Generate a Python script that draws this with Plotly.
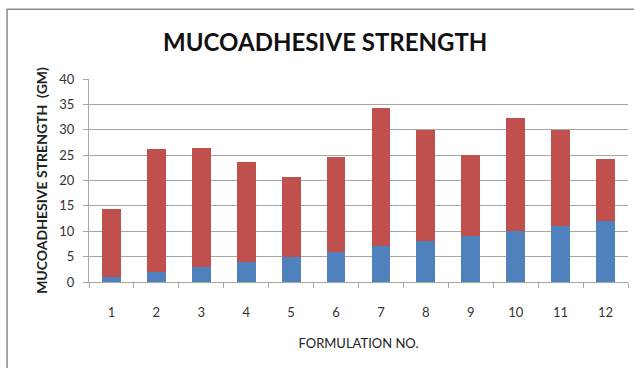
import plotly.graph_objects as go

# Formulation numbers and the two stacked components of each bar
formulations = ["1", "2", "3", "4", "5", "6", "7", "8", "9", "10", "11", "12"]
series_blue = [1, 2, 3, 4, 5, 6, 7, 8, 9, 10, 11, 12]
series_red = [13.4, 24.2, 23.4, 19.7, 15.6, 18.7, 27.3, 21.9, 16.1, 22.3, 19.0, 12.2]

y_ticks = [0, 5, 10, 15, 20, 25, 30, 35, 40]

FONT = "Lato"
GRID = "#a6a6a6"

fig = go.Figure()
fig.add_trace(go.Bar(x=formulations, y=series_blue, marker_color="#4F81BD",
                     marker_line_width=0, name="Series1"))
fig.add_trace(go.Bar(x=formulations, y=series_red, marker_color="#C0504D",
                     marker_line_width=0, name="Series2"))

fig.update_layout(
    barmode="stack",
    bargap=0.58,
    width=634,
    height=368,
    margin=dict(l=89, r=6, t=79, b=86),
    paper_bgcolor="white",
    plot_bgcolor="white",
    showlegend=False,
    font=dict(family=FONT, color="#333333", size=12),
    title=dict(
        text="MUCOADHESIVE STRENGTH",
        x=0.513, xref="container", xanchor="center",
        y=0.885, yref="container", yanchor="middle",
        font=dict(family=FONT, size=24, color="#111111", weight="bold"),
    ),
    xaxis=dict(
        type="category",
        showgrid=False,
        showline=True, linecolor=GRID, linewidth=1,
        ticks="outside", tickson="boundaries", ticklen=5, tickcolor=GRID,
        tickfont=dict(family=FONT, size=13, color="#333333"),
        ticklabelstandoff=18,
        title=dict(text="FORMULATION NO.", standoff=20,
                   font=dict(family=FONT, size=13, color="#222222")),
    ),
    yaxis=dict(
        range=[0, 40],
        tickvals=y_ticks,
        showgrid=True, gridcolor=GRID, gridwidth=1,
        showline=True, linecolor=GRID, linewidth=1,
        zeroline=False,
        ticks="outside", ticklen=5, tickcolor=GRID,
        tickfont=dict(family=FONT, size=13, color="#333333"),
        ticklabelstandoff=6,
        title=dict(text="MUCOADHESIVE STRENGTH  (GM)", standoff=8,
                   font=dict(family=FONT, size=14, color="#222222", weight="bold")),
    ),
    shapes=[
        # outer chart frame (top and left edges visible)
        dict(type="rect", xref="paper", yref="paper",
             x0=-0.152, x1=1.2, y0=-0.6, y1=1.344,
             line=dict(color="#8c8c8c", width=1.5), fillcolor="rgba(0,0,0,0)",
             layer="below"),
    ],
)

fig.write_html("out.html")
